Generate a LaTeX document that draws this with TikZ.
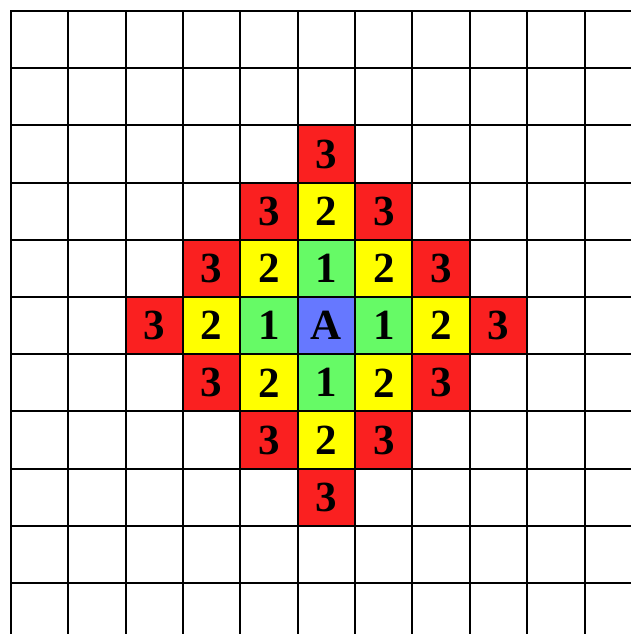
\documentclass[tikz,border=0pt]{standalone}
\usepackage{fontspec}
\setmainfont{Liberation Serif}
\definecolor{cred}{RGB}{250,32,32}
\definecolor{cyellow}{RGB}{255,255,0}
\definecolor{cgreen}{RGB}{102,250,102}
\definecolor{cblue}{RGB}{102,120,255}
\begin{document}
\begin{tikzpicture}[x=1pt,y=-1pt,
  cell/.style={minimum width=57.35pt,minimum height=57.2pt,inner sep=0pt,
    font=\fontsize{43}{43}\selectfont\bfseries},
  gridline/.style={line width=2pt,black,line cap=rect}]
\useasboundingbox (0,0) rectangle (630,634);
\fill[white] (0,0) rectangle (630,634);
\foreach \i in {0,...,10} {
  \foreach \j in {0,...,10} {
    \pgfmathtruncatemacro\d{abs(\i-5)+abs(\j-5)}
    \ifnum\d<4
      \ifcase\d \def\col{cblue}\def\lab{A}\or
        \def\col{cgreen}\def\lab{1}\or
        \def\col{cyellow}\def\lab{2}\or
        \def\col{cred}\def\lab{3}\fi
      \node[cell,fill=\col] (c\i-\j) at ({11+57.35*(\i+0.5)},{11+57.2*(\j+0.5)}) {\lab};
    \fi
  }
}
\foreach \i in {0,...,10} {
  \draw[gridline] ({11+57.35*\i},11) -- ({11+57.35*\i},640);
}
\foreach \j in {0,...,10} {
  \draw[gridline] (11,{11+57.2*\j}) -- (640,{11+57.2*\j});
}
\end{tikzpicture}
\end{document}
